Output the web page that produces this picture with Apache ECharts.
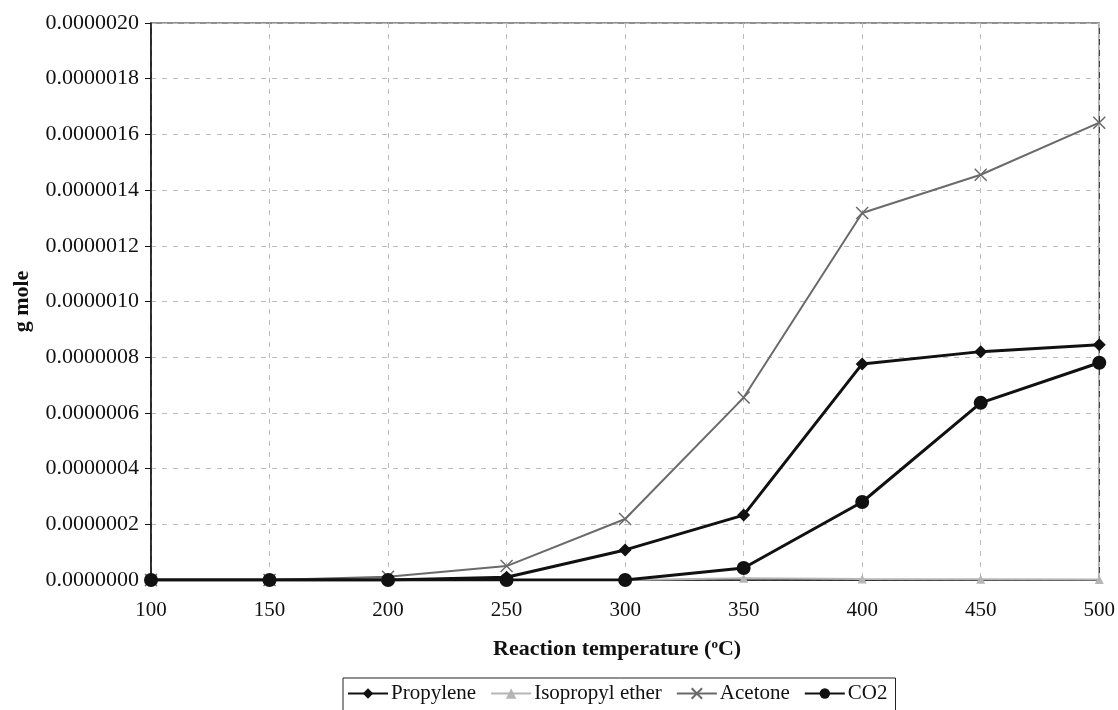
<!DOCTYPE html>
<html>
<head>
<meta charset="utf-8">
<script src="https://cdn.jsdelivr.net/npm/echarts@6/dist/echarts.min.js"></script>
<style>
html,body{margin:0;padding:0;background:#fff;}
#c{width:1118px;height:710px;}
</style>
</head>
<body>
<div id="c"></div>
<script>
const temperatures = [100, 150, 200, 250, 300, 350, 400, 450, 500];
const propylene = [0, 0, 0, 0.010e-6, 0.108e-6, 0.233e-6, 0.776e-6, 0.82e-6, 0.845e-6];
const isopropylEther = [0, 0, 0, 0, 0, 0.006e-6, 0.004e-6, 0.003e-6, 0.002e-6];
const acetone = [0, 0, 0.012e-6, 0.050e-6, 0.219e-6, 0.655e-6, 1.318e-6, 1.455e-6, 1.642e-6];
const co2 = [0, 0, 0, 0, 0, 0.043e-6, 0.28e-6, 0.636e-6, 0.78e-6];
const seriesNames = ['Propylene', 'Isopropyl ether', 'Acetone', 'CO2'];

const pair = arr => temperatures.map((t, i) => [t, arr[i]]);
const font = '"Liberation Serif", "Times New Roman", serif';

const chart = echarts.init(document.getElementById('c'));
chart.setOption({
  animation: false,
  backgroundColor: '#fff',
  textStyle: { fontFamily: font, color: '#111' },
  grid: { left: 151, right: 16, top: 23, bottom: 130, show: true, borderColor: '#222', borderWidth: 1.2 },
  xAxis: {
    type: 'value', min: 100, max: 500, interval: 50,
    name: '{b|Reaction temperature (}{sup|o}{b|C)}',
    nameLocation: 'middle', nameGap: 58,
    nameTextStyle: {
      padding: [0, 16, 0, 0],
      rich: {
        b: { fontFamily: font, fontWeight: 'bold', fontSize: 22, color: '#111' },
        sup: { fontFamily: font, fontWeight: 'bold', fontSize: 13, color: '#111', padding: [0, 0, 10, 0] }
      }
    },
    axisLine: { lineStyle: { color: '#111', width: 1.5 } },
    axisTick: { show: false },
    axisLabel: { fontFamily: font, fontSize: 21, color: '#111', margin: 20 },
    splitLine: { show: true, lineStyle: { color: '#bbb', type: [5, 6], width: 1 } }
  },
  yAxis: {
    type: 'value', min: 0, max: 2e-6, interval: 0.2e-6,
    name: 'g mole', nameLocation: 'middle', nameGap: 118,
    nameTextStyle: { fontFamily: font, fontWeight: 'bold', fontSize: 22, color: '#111' },
    axisLine: { show: true, lineStyle: { color: '#111', width: 1.5 } },
    axisTick: { show: true, length: 6, lineStyle: { color: '#111' } },
    axisLabel: { fontFamily: font, fontSize: 22, color: '#111', margin: 12,
      formatter: v => v.toFixed(7) },
    splitLine: { show: true, lineStyle: { color: '#bbb', type: [5, 6], width: 1 } }
  },
  legend: {
    bottom: -10, left: 343,
    data: seriesNames,
    borderColor: '#222', borderWidth: 1, borderRadius: 0,
    padding: [5, 8, 16, 4], itemGap: 14, itemWidth: 40, itemHeight: 13,
    textStyle: { fontFamily: font, fontSize: 21, color: '#111', padding: [0, 0, 0, -2] }
  },
  series: [
    {
      name: seriesNames[0], type: 'line', data: pair(propylene),
      symbol: 'diamond', symbolSize: 13,
      lineStyle: { color: '#111', width: 3 },
      itemStyle: { color: '#111' }, z: 4
    },
    {
      name: seriesNames[1], type: 'line', data: pair(isopropylEther),
      symbol: 'triangle', symbolSize: 9,
      lineStyle: { color: '#b5b5b5', width: 2 },
      itemStyle: { color: '#b5b5b5' }, z: 2
    },
    {
      name: seriesNames[2], type: 'line', data: pair(acetone),
      symbol: 'path://M0,0L10,10M10,0L0,10', symbolSize: 12,
      lineStyle: { color: '#6a6a6a', width: 2 },
      itemStyle: { color: 'rgba(0,0,0,0)', borderColor: '#6a6a6a', borderWidth: 1.5 }, z: 3
    },
    {
      name: seriesNames[3], type: 'line', data: pair(co2),
      symbol: 'circle', symbolSize: 14,
      lineStyle: { color: '#111', width: 3 },
      itemStyle: { color: '#111' }, z: 5
    }
  ]
});
</script>
</body>
</html>
